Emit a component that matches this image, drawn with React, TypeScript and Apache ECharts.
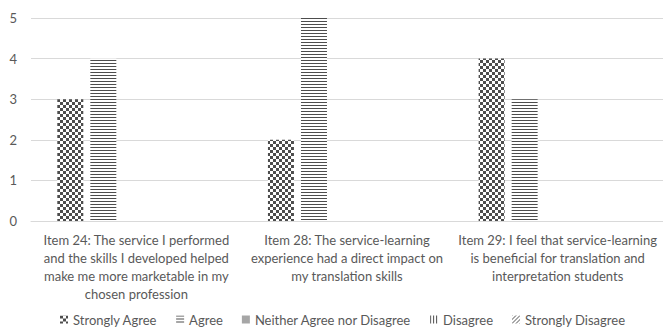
import React, { useEffect, useRef } from "react";
import * as echarts from "echarts";

const categories = [
  "Item 24: The service I performed\nand the skills I developed helped\nmake me more marketable in my\nchosen profession",
  "Item 28: The service-learning\nexperience had a direct impact on\nmy translation skills",
  "Item 29: I feel that service-learning\nis beneficial for translation and\ninterpretation students",
];
const seriesNames = [
  "Strongly Agree",
  "Agree",
  "Neither Agree nor Disagree",
  "Disagree",
  "Strongly Disagree",
];
const stronglyAgree = [3, 2, 4];
const agree = [4, 5, 3];
const neither = [0, 0, 0];
const disagree = [0, 0, 0];
const stronglyDisagree = [0, 0, 0];
const yTicks = [0, 1, 2, 3, 4, 5];

const INK = "#4d4d4d";
const TEXT = "#595959";
const FONT = "Lato, 'Open Sans', sans-serif";

function makePattern(size: number, draw: (ctx: CanvasRenderingContext2D) => void) {
  const c = document.createElement("canvas");
  c.width = size;
  c.height = size;
  const ctx = c.getContext("2d")!;
  ctx.fillStyle = "#ffffff";
  ctx.fillRect(0, 0, size, size);
  ctx.fillStyle = INK;
  draw(ctx);
  return { image: c, repeat: "repeat", imageWidth: size, imageHeight: size } as any;
}

export default function App() {
  const ref = useRef<HTMLDivElement>(null);

  useEffect(() => {
    if (!ref.current) return;
    const chart = echarts.init(ref.current, undefined, { renderer: "svg" });

    const checker = makePattern(6, (ctx) => {
      ctx.fillRect(0, 0, 3, 3);
      ctx.fillRect(3, 3, 3, 3);
    });
    const hStripes = makePattern(3, (ctx) => {
      ctx.fillRect(0, 0, 3, 1);
    });
    const vStripes = makePattern(3, (ctx) => {
      ctx.fillRect(0, 0, 1, 3);
    });
    const diag = makePattern(4, (ctx) => {
      ctx.fillRect(3, 0, 1, 1);
      ctx.fillRect(2, 1, 1, 1);
      ctx.fillRect(1, 2, 1, 1);
      ctx.fillRect(0, 3, 1, 1);
    });
    const fills = [checker, hStripes, "#a6a6a6", vStripes, diag];
    const values = [stronglyAgree, agree, neither, disagree, stronglyDisagree];

    chart.setOption({
      animation: false,
      textStyle: { fontFamily: FONT },
      grid: { left: 31, right: 0, top: 18, bottom: 108, containLabel: false },
      legend: {
        bottom: 3,
        left: 60,
        padding: 0,
        itemWidth: 8,
        itemHeight: 8,
        itemGap: 19,
        icon: "rect",
        textStyle: { color: TEXT, fontSize: 13, fontFamily: FONT },
        data: seriesNames,
      },
      xAxis: {
        type: "category",
        data: categories,
        axisLine: { show: true, lineStyle: { color: "#d9d9d9" } },
        axisTick: { show: false },
        axisLabel: {
          color: TEXT,
          fontSize: 13,
          lineHeight: 18,
          margin: 10,
          interval: 0,
          fontFamily: FONT,
        },
      },
      yAxis: {
        type: "value",
        min: yTicks[0],
        max: yTicks[yTicks.length - 1],
        interval: 1,
        axisLine: { show: false },
        axisTick: { show: false },
        splitLine: { lineStyle: { color: "#d9d9d9" } },
        axisLabel: { color: TEXT, fontSize: 13, margin: 14, fontFamily: FONT },
      },
      series: seriesNames.map((name, i) => ({
        name,
        type: "bar",
        data: values[i],
        barWidth: 26,
        barGap: "27%",
        itemStyle: { color: fills[i] },
      })),
    });

    return () => chart.dispose();
  }, []);

  return (
    <div
      ref={ref}
      style={{ position: "absolute", left: 0, top: 0, width: 663, height: 329, background: "#fff" }}
    />
  );
}
